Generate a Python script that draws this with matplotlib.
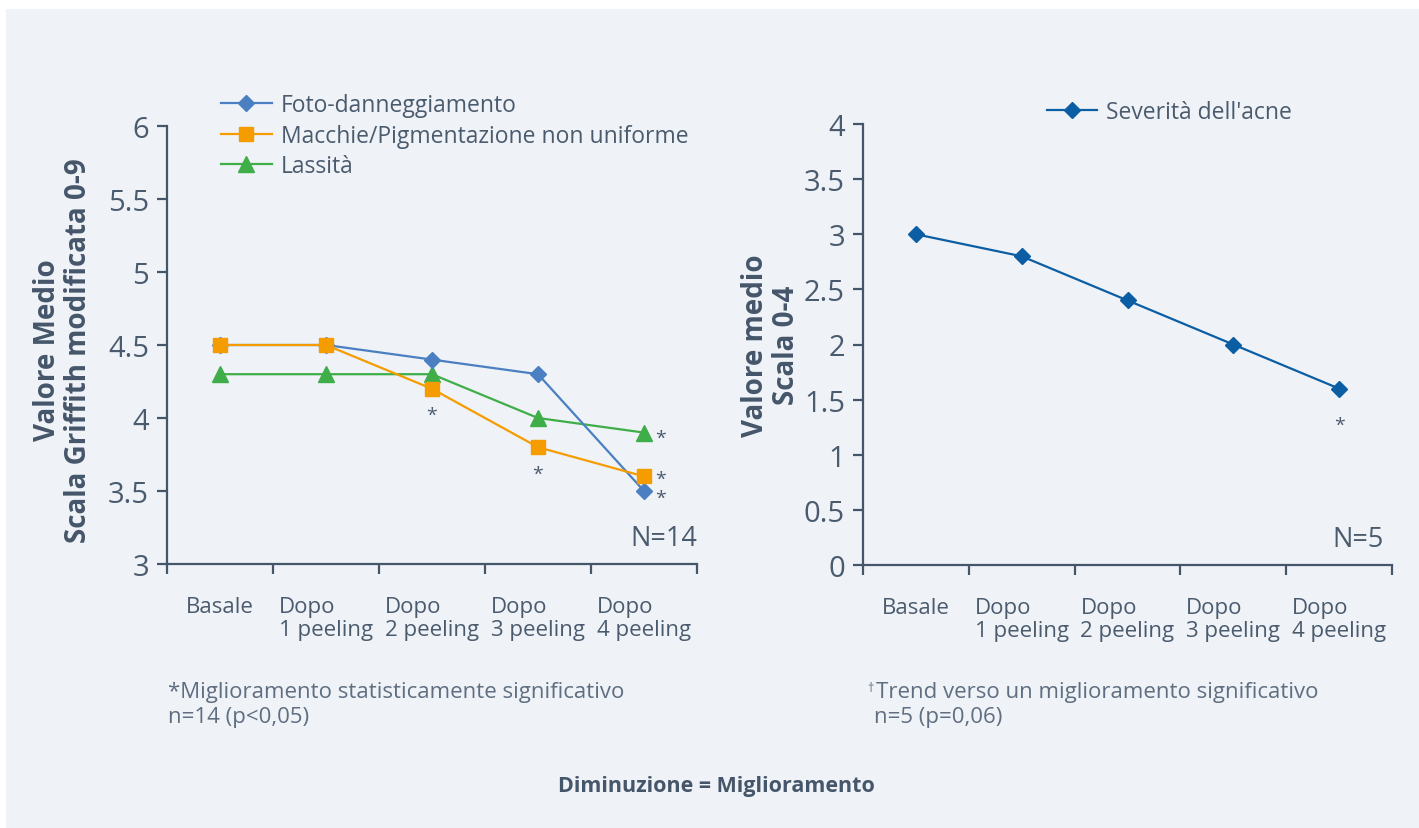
import matplotlib
import matplotlib.pyplot as plt
from matplotlib.patches import Rectangle

matplotlib.use('Agg')

plt.rcParams['font.family'] = ['Open Sans', 'DejaVu Sans']

# Data
categories = ['Basale', 'Dopo\n1 peeling', 'Dopo\n2 peeling', 'Dopo\n3 peeling', 'Dopo\n4 peeling']
foto = [4.5, 4.5, 4.4, 4.3, 3.5]
macchie = [4.5, 4.5, 4.2, 3.8, 3.6]
lassita = [4.3, 4.3, 4.3, 4.0, 3.9]
acne = [3.0, 2.8, 2.4, 2.0, 1.6]

left_yticks = [3, 3.5, 4, 4.5, 5, 5.5, 6]
right_yticks = [0, 0.5, 1, 1.5, 2, 2.5, 3, 3.5, 4]

BG = '#eff2f7'
AXC = '#46566a'
TXT = '#4b5b6e'
BLUE = '#4a7fc1'
ORANGE = '#f59c00'
GREEN = '#3fae49'
DARKBLUE = '#0b5ea3'

W, H = 1419, 829
fig = plt.figure(figsize=(W / 100, H / 100), dpi=100)
fig.patch.set_facecolor('white')
fig.patches.append(Rectangle((6 / W, 0), 1, 1 - 10 / H, transform=fig.transFigure,
                             facecolor=BG, edgecolor='none', zorder=-10))


def px_axes(x0, y0, x1, y1):
    return fig.add_axes([x0 / W, 1 - y1 / H, (x1 - x0) / W, (y1 - y0) / H])


def style_axes(ax, ymin, ymax, yticks):
    ax.set_facecolor('none')
    for s in ['top', 'right']:
        ax.spines[s].set_visible(False)
    for s in ['left', 'bottom']:
        ax.spines[s].set_color(AXC)
        ax.spines[s].set_linewidth(1.6)
    ax.set_ylim(ymin, ymax)
    ax.set_xlim(-0.5, 4.5)
    ax.set_yticks(yticks)
    ax.set_yticklabels([f'{t:g}' for t in yticks])
    ax.tick_params(axis='y', length=7, width=1.6, color=AXC, labelcolor=TXT, labelsize=21, pad=6)
    # x ticks as category separators
    ax.set_xticks([-0.5, 0.5, 1.5, 2.5, 3.5, 4.5])
    ax.set_xticklabels([])
    ax.tick_params(axis='x', length=7, width=1.6, color=AXC)
    for i, lab in enumerate(categories):
        ax.annotate(lab, xy=(i, 0), xycoords=('data', 'axes fraction'),
                    xytext=(0, -23), textcoords='offset points',
                    ha='center', va='top', multialignment='left',
                    fontsize=16, color=TXT, linespacing=1.1)


x = list(range(len(categories)))

# Left chart
ax1 = px_axes(167, 127, 697, 565)
style_axes(ax1, 3, 6, left_yticks)
ax1.plot(x, foto, color=BLUE, lw=1.6, marker='D', ms=8, label='Foto-danneggiamento', zorder=3)
ax1.plot(x, macchie, color=ORANGE, lw=1.6, marker='s', ms=10, label='Macchie/Pigmentazione non uniforme', zorder=4)
ax1.plot(x, lassita, color=GREEN, lw=1.6, marker='^', ms=11, label='Lassità', zorder=2)
ax1.set_ylabel('Valore Medio\nScala Griffith modificata 0-9', fontsize=20, fontweight='bold',
               color=AXC, linespacing=1.12, va='center')
ax1.yaxis.set_label_coords((63 - 167) / 530, 0.49)
leg = ax1.legend(loc='lower left', bbox_to_anchor=(0.085, 0.86), frameon=False, fontsize=16.5,
                 handlelength=2.2, handletextpad=0.4, labelspacing=0.28, borderaxespad=0)
for t in leg.get_texts():
    t.set_color(TXT)

# significance asterisks
star = dict(color=TXT, fontsize=14, ha='center', va='center')
ax1.annotate('*', xy=(2, macchie[2]), xytext=(0, -19), textcoords='offset points', **star)
ax1.annotate('*', xy=(3, macchie[3]), xytext=(0, -19), textcoords='offset points', **star)
ax1.annotate('*', xy=(4, lassita[4]), xytext=(12, -4), textcoords='offset points', **star)
ax1.annotate('*', xy=(4, macchie[4]), xytext=(12, -2), textcoords='offset points', **star)
ax1.annotate('*', xy=(4, foto[4]), xytext=(12, -5), textcoords='offset points', **star)
ax1.text(1.0, 0.06, 'N=14', transform=ax1.transAxes, ha='right', va='center', fontsize=19.5, color=TXT)

# Right chart
ax2 = px_axes(863, 125, 1392, 566)
style_axes(ax2, 0, 4, right_yticks)
ax2.plot(x, acne, color=DARKBLUE, lw=1.6, marker='D', ms=8, label="Severità dell'acne")
ax2.set_ylabel('Valore medio\nScala 0-4', fontsize=20, fontweight='bold',
               color=AXC, linespacing=1.12, va='center')
ax2.yaxis.set_label_coords((771 - 863) / 529, 0.5)
leg2 = ax2.legend(loc='lower left', bbox_to_anchor=(0.33, 0.98), frameon=False, fontsize=16.5,
                  handlelength=2.2, handletextpad=0.4, borderaxespad=0)
for t in leg2.get_texts():
    t.set_color(TXT)
ax2.annotate('*', xy=(4, acne[4]), xytext=(0, -26), textcoords='offset points', **star)
ax2.text(0.985, 0.06, 'N=5', transform=ax2.transAxes, ha='right', va='center', fontsize=19.5, color=TXT)

# Footnotes
foot = dict(fontsize=16, color='#5f6e80', va='center', ha='left')
fig.text(168 / W, 1 - 693 / H, '*Miglioramento statisticamente significativo', **foot)
fig.text(168 / W, 1 - 718 / H, 'n=14 (p<0,05)', **foot)
fig.text(867 / W, 1 - 689 / H, '\u2020', fontsize=9, color='#5f6e80', va='center', ha='left')
fig.text(876 / W, 1 - 693 / H, 'Trend verso un miglioramento significativo', **foot)
fig.text(874 / W, 1 - 718 / H, 'n=5 (p=0,06)', **foot)

fig.text(716 / W, 1 - 787 / H, 'Diminuzione = Miglioramento', fontsize=15.5, fontweight='bold',
         color=AXC, ha='center', va='center')

fig.savefig('out.png', dpi=100, facecolor=fig.get_facecolor())
plt.close(fig)
